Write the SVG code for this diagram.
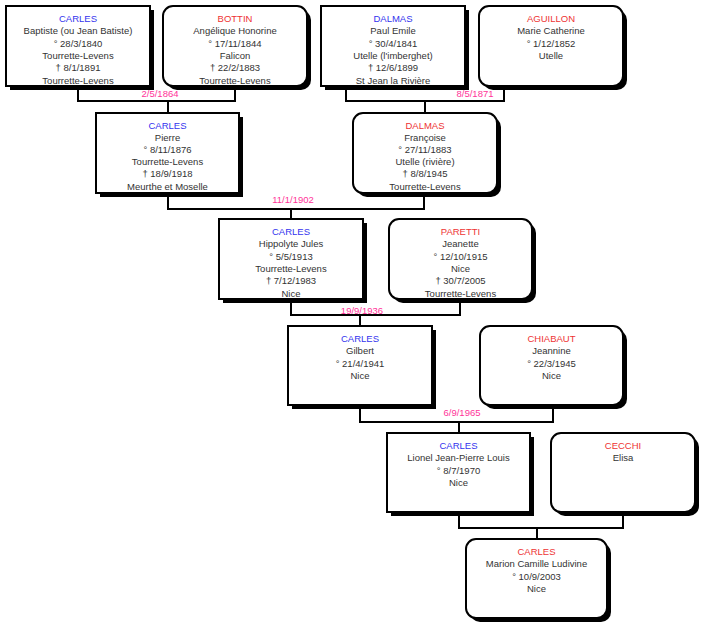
<svg xmlns="http://www.w3.org/2000/svg" width="709" height="625" viewBox="0 0 709 625">
<style>
.bx{fill:#fff;stroke:#000;stroke-width:2}
.sh{fill:#000}
.t{font-family:"Liberation Sans",Arial,sans-serif;font-size:9.5px;fill:#333;text-anchor:middle}
.m{fill:#3333ee}
.f{fill:#ee3333}
.d{font-family:"Liberation Sans",Arial,sans-serif;font-size:9.5px;fill:#ff3399;text-anchor:middle}
.c{fill:none;stroke:#000;stroke-width:2}
</style>
<rect width="709" height="625" fill="#fff"/>
<g id="connectors">
<path class="c" d="M78 86V101H235V86M168 101V113"/>
<path class="c" d="M346 86V101H504V86M425 101V113"/>
<path class="c" d="M168 193V209H424V193M291 209V219"/>
<path class="c" d="M291 299V315H460V299M360 315V326"/>
<path class="c" d="M360 405V422H553V405M459 422V433"/>
<path class="c" d="M459 512V528H623V512M537 528V539"/>
<text class="d" x="160" y="97">2/5/1864</text>
<text class="d" x="475" y="97">8/5/1871</text>
<text class="d" x="293" y="203">11/1/1902</text>
<text class="d" x="362" y="314">19/9/1936</text>
<text class="d" x="462" y="416">6/9/1965</text>
</g>
<g id="n1">
<rect class="sh" x="10" y="10" width="144" height="80"/>
<rect class="bx" x="6" y="6" width="144" height="80"/>
<text class="t" y="22"><tspan class="m" x="78">CARLES</tspan><tspan x="78" dy="12.3">Baptiste (ou Jean Batiste)</tspan><tspan x="78" dy="12.3">° 28/3/1840</tspan><tspan x="78" dy="12.3">Tourrette-Levens</tspan><tspan x="78" dy="12.3">† 8/1/1891</tspan><tspan x="78" dy="12.3">Tourrette-Levens</tspan></text>
</g>
<g id="n2">
<rect class="sh" x="167" y="10" width="144" height="80" rx="10"/>
<rect class="bx" x="163" y="6" width="144" height="80" rx="10"/>
<text class="t" y="22"><tspan class="f" x="235">BOTTIN</tspan><tspan x="235" dy="12.3">Angélique Honorine</tspan><tspan x="235" dy="12.3">° 17/11/1844</tspan><tspan x="235" dy="12.3">Falicon</tspan><tspan x="235" dy="12.3">† 22/2/1883</tspan><tspan x="235" dy="12.3">Tourrette-Levens</tspan></text>
</g>
<g id="n3">
<rect class="sh" x="325" y="10" width="144" height="80"/>
<rect class="bx" x="321" y="6" width="144" height="80"/>
<text class="t" y="22"><tspan class="m" x="393">DALMAS</tspan><tspan x="393" dy="12.3">Paul Emile</tspan><tspan x="393" dy="12.3">° 30/4/1841</tspan><tspan x="393" dy="12.3">Utelle (l'imberghet)</tspan><tspan x="393" dy="12.3">† 12/6/1899</tspan><tspan x="393" dy="12.3">St Jean la Rivière</tspan></text>
</g>
<g id="n4">
<rect class="sh" x="483" y="10" width="144" height="80" rx="10"/>
<rect class="bx" x="479" y="6" width="144" height="80" rx="10"/>
<text class="t" y="22"><tspan class="f" x="551">AGUILLON</tspan><tspan x="551" dy="12.3">Marie Catherine</tspan><tspan x="551" dy="12.3">° 1/12/1852</tspan><tspan x="551" dy="12.3">Utelle</tspan></text>
</g>
<g id="n5">
<rect class="sh" x="100" y="117" width="143" height="80"/>
<rect class="bx" x="96" y="113" width="143" height="80"/>
<text class="t" y="128.5"><tspan class="m" x="167.5">CARLES</tspan><tspan x="167.5" dy="12.2">Pierre</tspan><tspan x="167.5" dy="12.2">° 8/11/1876</tspan><tspan x="167.5" dy="12.2">Tourrette-Levens</tspan><tspan x="167.5" dy="12.2">† 18/9/1918</tspan><tspan x="167.5" dy="12.2">Meurthe et Moselle</tspan></text>
</g>
<g id="n6">
<rect class="sh" x="357" y="117" width="144" height="80" rx="10"/>
<rect class="bx" x="353" y="113" width="144" height="80" rx="10"/>
<text class="t" y="128.5"><tspan class="f" x="425">DALMAS</tspan><tspan x="425" dy="12.2">Françoise</tspan><tspan x="425" dy="12.2">° 27/11/1883</tspan><tspan x="425" dy="12.2">Utelle (rivière)</tspan><tspan x="425" dy="12.2">† 8/8/1945</tspan><tspan x="425" dy="12.2">Tourrette-Levens</tspan></text>
</g>
<g id="n7">
<rect class="sh" x="223" y="223" width="144" height="80"/>
<rect class="bx" x="219" y="219" width="144" height="80"/>
<text class="t" y="235"><tspan class="m" x="291">CARLES</tspan><tspan x="291" dy="12.3">Hippolyte Jules</tspan><tspan x="291" dy="12.3">° 5/5/1913</tspan><tspan x="291" dy="12.3">Tourrette-Levens</tspan><tspan x="291" dy="12.3">† 7/12/1983</tspan><tspan x="291" dy="12.3">Nice</tspan></text>
</g>
<g id="n8">
<rect class="sh" x="393" y="223" width="143" height="80" rx="10"/>
<rect class="bx" x="389" y="219" width="143" height="80" rx="10"/>
<text class="t" y="235"><tspan class="f" x="460.5">PARETTI</tspan><tspan x="460.5" dy="12.3">Jeanette</tspan><tspan x="460.5" dy="12.3">° 12/10/1915</tspan><tspan x="460.5" dy="12.3">Nice</tspan><tspan x="460.5" dy="12.3">† 30/7/2005</tspan><tspan x="460.5" dy="12.3">Tourrette-Levens</tspan></text>
</g>
<g id="n9">
<rect class="sh" x="292" y="330" width="144" height="79"/>
<rect class="bx" x="288" y="326" width="144" height="79"/>
<text class="t" y="342"><tspan class="m" x="360">CARLES</tspan><tspan x="360" dy="12.3">Gilbert</tspan><tspan x="360" dy="12.3">° 21/4/1941</tspan><tspan x="360" dy="12.3">Nice</tspan></text>
</g>
<g id="n10">
<rect class="sh" x="484" y="330" width="143" height="79" rx="10"/>
<rect class="bx" x="480" y="326" width="143" height="79" rx="10"/>
<text class="t" y="342"><tspan class="f" x="551.5">CHIABAUT</tspan><tspan x="551.5" dy="12.3">Jeannine</tspan><tspan x="551.5" dy="12.3">° 22/3/1945</tspan><tspan x="551.5" dy="12.3">Nice</tspan></text>
</g>
<g id="n11">
<rect class="sh" x="391" y="437" width="143" height="79"/>
<rect class="bx" x="387" y="433" width="143" height="79"/>
<text class="t" y="449"><tspan class="m" x="458.5">CARLES</tspan><tspan x="458.5" dy="12.3">Lionel Jean-Pierre Louis</tspan><tspan x="458.5" dy="12.3">° 8/7/1970</tspan><tspan x="458.5" dy="12.3">Nice</tspan></text>
</g>
<g id="n12">
<rect class="sh" x="555" y="437" width="144" height="79" rx="10"/>
<rect class="bx" x="551" y="433" width="144" height="79" rx="10"/>
<text class="t" y="449"><tspan class="f" x="623">CECCHI</tspan><tspan x="623" dy="12.3">Elisa</tspan></text>
</g>
<g id="n13">
<rect class="sh" x="470" y="543" width="141" height="79" rx="10"/>
<rect class="bx" x="466" y="539" width="141" height="79" rx="10"/>
<text class="t" y="555"><tspan class="f" x="536.5">CARLES</tspan><tspan x="536.5" dy="12.3">Marion Camille Ludivine</tspan><tspan x="536.5" dy="12.3">° 10/9/2003</tspan><tspan x="536.5" dy="12.3">Nice</tspan></text>
</g>
</svg>
